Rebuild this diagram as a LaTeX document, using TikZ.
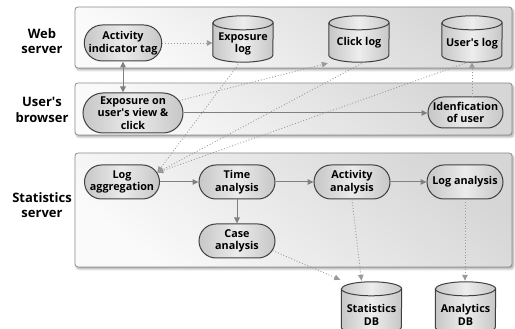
\documentclass[tikz,border=0pt]{standalone}
\usepackage{fontspec}
\setmainfont{Open Sans}
\usetikzlibrary{shapes.misc,arrows.meta,shadows.blur,calc}

\definecolor{panelline}{HTML}{8C8C8C}
\definecolor{nodeline}{HTML}{404040}
\definecolor{arrowgray}{HTML}{808080}
\definecolor{dotgray}{HTML}{9A9A9A}

\tikzset{
  panel/.style={draw=panelline, line width=0.8pt, rounded corners=3pt,
    top color=black!16, bottom color=black!2, shading angle=-40,
    inner sep=0pt,
    blur shadow={shadow xshift=1.5pt, shadow yshift=-2pt, shadow blur steps=6, shadow opacity=35}},
  proc/.style={rounded rectangle, draw=nodeline, line width=1pt,
    left color=black!22, right color=black!22, middle color=black!8,
    font=\bfseries\fontsize{10.8}{12.4}\selectfont, align=center,
    inner sep=0pt, minimum height=34pt},
  tier/.style={font=\bfseries\fontsize{13}{15.5}\selectfont, align=center},
  flow/.style={draw=arrowgray, line width=1pt, -{Triangle[length=6pt,width=5.5pt]}},
  dotflow/.style={draw=dotgray, line width=0.9pt, dotted, -{Triangle[length=6pt,width=5.5pt]}},
  cylbox/.style={minimum width=60pt, inner sep=0pt},
  cylfill/.style={draw=nodeline, line width=1pt,
    left color=black!22, right color=black!22, middle color=black!7},
  cyltext/.style={font=\bfseries\fontsize{10.8}{12.4}\selectfont, align=center, inner sep=0pt},
}

% database drum drawn over a named box node
\newcommand\dbdrum[1]{%
  \path[cylfill] ([yshift=-7pt]#1.north west) -- ([yshift=7pt]#1.south west)
    arc[start angle=180,end angle=360,x radius=30pt,y radius=7pt]
    -- ([yshift=-7pt]#1.north east)
    arc[start angle=0,end angle=180,x radius=30pt,y radius=7pt] -- cycle;
  \draw[draw=nodeline, line width=1pt] ([yshift=-7pt]#1.north west)
    arc[start angle=180,end angle=360,x radius=30pt,y radius=7pt];
}
\newcommand\apos{\textquotesingle}

\begin{document}
\begin{tikzpicture}[x=1pt,y=1pt]
\useasboundingbox (0,0) rectangle (515,329);

% tiers
\node[panel, minimum width=437pt, minimum height=61pt] (websrv) at (293.5,291.5) {};
\node[panel, minimum width=437pt, minimum height=52pt] (browser) at (293.5,220) {};
\node[panel, minimum width=437pt, minimum height=114pt] (statsrv) at (293.5,119) {};

\node[tier] (lweb) at (42,288) {Web\\server};
\node[tier] (lbrow) at (42,219) {User\apos s\\browser};
\node[tier] (lstat) at (42,124) {Statistics\\server};

% web server
\node[proc, minimum width=74pt, minimum height=36pt] (tag) at (123,286) {Activity\\indicator tag};
\node[cylbox, minimum height=46pt] (elog) at (243,290) {};
\node[cylbox, minimum height=46pt] (clog) at (359,290) {};
\node[cylbox, minimum height=46pt] (ulog) at (472,290) {};
\dbdrum{elog}\dbdrum{clog}\dbdrum{ulog}
\node[cyltext] (elogt) at ([yshift=-5pt]elog.center) {Exposure\\log};
\node[cyltext] (clogt) at ([yshift=-4pt]clog.center) {Click log};
\node[cyltext] (ulogt) at ([yshift=-5pt]ulog.center) {User\apos s log};

% browser
\node[proc, minimum width=100pt, minimum height=40pt] (expo) at (133,216) {Exposure on\\user\apos s view \&\\click};
\node[proc, minimum width=75pt, minimum height=31pt] (idf) at (465.5,216.5) {Idenfication\\of user};

% statistics server
\node[proc, minimum width=75pt] (lagg) at (122,147) {Log\\aggregation};
\node[proc, minimum width=76pt] (time) at (237,147) {Time\\analysis};
\node[proc, minimum width=76pt] (act) at (352,147) {Activity\\analysis};
\node[proc, minimum width=76pt] (lana) at (465,147) {Log analysis};
\node[proc, minimum width=76pt] (case) at (237,88) {Case\\analysis};

% databases
\node[cylbox, minimum height=52pt] (sdb) at (371.5,21) {};
\node[cylbox, minimum height=52pt] (adb) at (465.5,21) {};
\dbdrum{sdb}\dbdrum{adb}
\node[cyltext] (sdbt) at ([yshift=-7pt]sdb.center) {Statistics\\DB};
\node[cyltext] (adbt) at ([yshift=-7pt]adb.center) {Analytics\\DB};

% connectors
\draw[dotflow] (tag.east) -- (tag.east -| elog.west);
\draw[flow, {Triangle[length=6pt,width=5.5pt]}-{Triangle[length=6pt,width=5.5pt]}] (tag.south) -- (tag.south |- expo.north);
\draw[dotflow] (expo.15) -- ([xshift=-1pt,yshift=-1pt]clog.south west);
\draw[flow] (expo.east) -- (expo.east -| idf.west);
\draw[dotflow] (idf.north -| ulog.south) -- (ulog.south);

\draw[dotflow] ([xshift=-3pt]elog.south) -- (lagg.15);
\draw[dotflow] ([xshift=5pt]clog.south) -- (lagg.15);
\draw[dotflow] ([xshift=-4pt]ulog.south) -- (lagg.15);

\draw[flow] (lagg.east) -- (time.west);
\draw[flow] (time.east) -- (act.west);
\draw[flow] (act.east) -- (lana.west);
\draw[flow] (time.south) -- (case.north);

\draw[dotflow] (case.-15) -- ([xshift=-1pt,yshift=2pt]sdb.north west);
\draw[dotflow] (act.south) -- ([xshift=-10pt,yshift=1pt]sdb.north);
\draw[dotflow] (lana.south) -- ([yshift=1pt]lana.south |- adb.north);
\end{tikzpicture}
\end{document}
